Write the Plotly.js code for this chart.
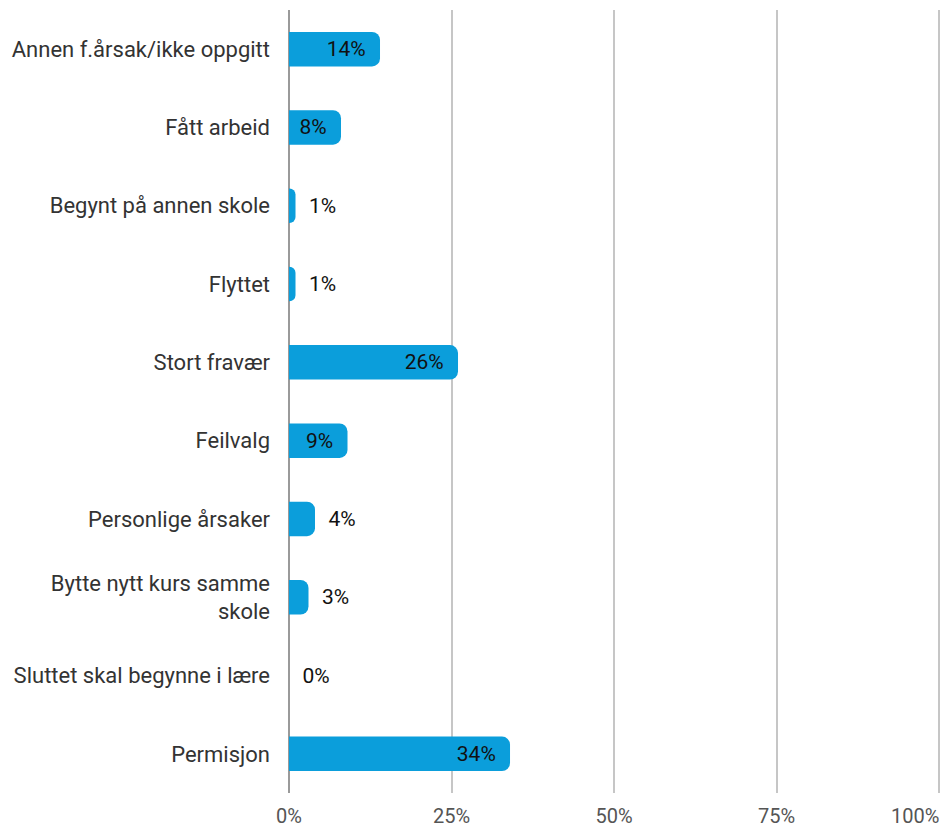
<!DOCTYPE html>
<html>
<head>
<meta charset="utf-8">
<script src="https://cdn.plot.ly/plotly-3.0.1.min.js"></script>
<style>
  html, body { margin: 0; padding: 0; background: #fff; }
  #chart { width: 947px; height: 830px; }
</style>
</head>
<body>
<div id="chart"></div>
<script>
const categories = [
  'Annen f.årsak/ikke oppgitt',
  'Fått arbeid',
  'Begynt på annen skole',
  'Flyttet',
  'Stort fravær',
  'Feilvalg',
  'Personlige årsaker',
  'Bytte nytt kurs samme<br>skole',
  'Sluttet skal begynne i lære',
  'Permisjon'
]
const shares = [0.14, 0.08, 0.01, 0.01, 0.26, 0.09, 0.04, 0.03, 0.00, 0.34]
const xTicks = [0, 0.25, 0.5, 0.75, 1]
const xTickLabels = ['0%', '25%', '50%', '75%', '100%']

const nb = '\u00a0'
// small bars get their label outside, the rest inside at the end
const positions = shares.map(v => v < 0.05 ? 'outside' : 'inside')
const labels = shares.map((v, i) => {
  const pct = Math.round(v * 100) + '%'
  return positions[i] === 'outside' ? nb + nb + pct : pct + nb + nb
})

// last tick label sits flush right against the edge, so draw it as an annotation
const last = xTickLabels.length - 1
const tickText = xTickLabels.map((t, i) => i === last ? '' : t)

const barFont = { family: 'Roboto, sans-serif', size: 21, color: '#111111' }
const xTickFont = { family: 'Roboto, sans-serif', size: 20, color: '#555555' }

const bars = {
  type: 'bar',
  orientation: 'h',
  y: categories,
  x: shares,
  text: labels,
  textposition: positions,
  insidetextanchor: 'end',
  cliponaxis: false,
  textfont: barFont,
  insidetextfont: barFont,
  outsidetextfont: barFont,
  marker: { color: '#0b9edb', cornerradius: 8 },
  hoverinfo: 'none'
}

const layout = {
  width: 947,
  height: 830,
  margin: { l: 289, r: 6, t: 10, b: 37 },
  paper_bgcolor: '#ffffff',
  plot_bgcolor: '#ffffff',
  showlegend: false,
  bargap: 0.56,
  font: { family: 'Roboto, sans-serif', size: 22, color: '#444444' },
  xaxis: {
    range: [0, 1.003],
    tickvals: xTicks,
    ticktext: tickText,
    showgrid: true,
    gridcolor: '#c6c6c6',
    gridwidth: 2,
    zeroline: true,
    zerolinecolor: '#9a9a9a',
    zerolinewidth: 2,
    showline: false,
    ticks: '',
    ticklabelstandoff: 9,
    tickfont: xTickFont,
    fixedrange: true
  },
  yaxis: {
    type: 'category',
    autorange: 'reversed',
    showgrid: false,
    zeroline: false,
    showline: false,
    ticks: '',
    ticklabelstandoff: 18,
    tickfont: { family: 'Roboto, sans-serif', size: 22, color: '#333333' },
    fixedrange: true
  },
  annotations: [{
    xref: 'x',
    yref: 'paper',
    x: xTicks[last],
    y: 0,
    xanchor: 'right',
    yanchor: 'top',
    yshift: -9,
    xshift: 2,
    showarrow: false,
    text: xTickLabels[last],
    font: xTickFont
  }]
}

Plotly.newPlot('chart', [bars], layout, { displayModeBar: false, staticPlot: true })
</script>
</body>
</html>
